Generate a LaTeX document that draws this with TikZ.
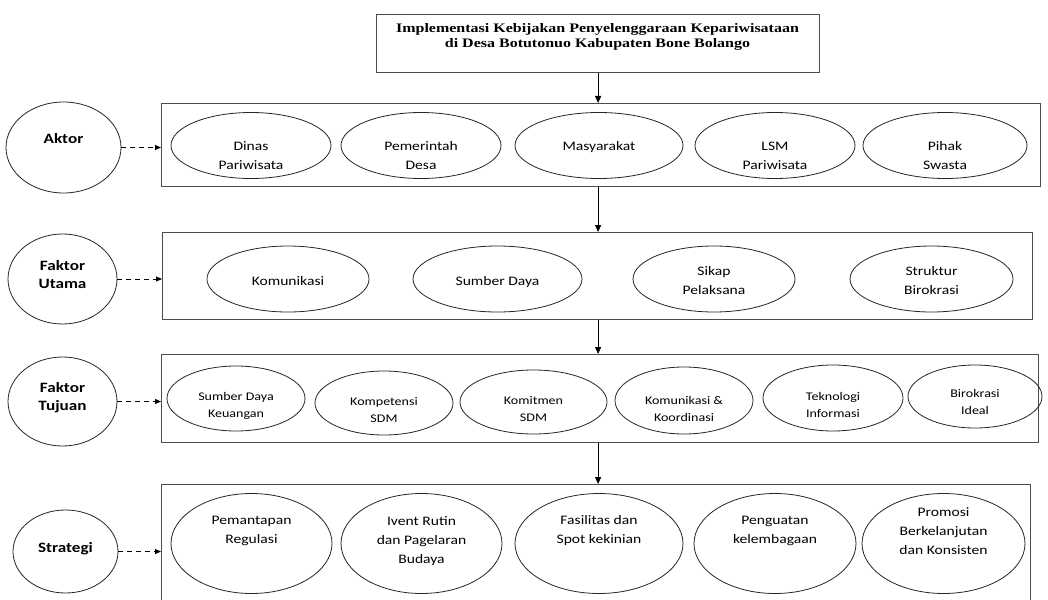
\documentclass[tikz,border=0pt]{standalone}
\usepackage{fontspec}
\setmainfont{Carlito}[FakeStretch=1.2]
\newfontfamily\titlefont{Liberation Serif}[FakeStretch=1.23]
\usetikzlibrary{shapes.geometric,arrows.meta}
\tikzset{
  ov/.style={draw=black!85, line width=0.8pt, ellipse, inner sep=0pt},
  grp/.style={draw=black!70, line width=1.2pt, rectangle, inner sep=0pt, anchor=north west},
  lbl/.style={anchor=base, align=center, inner sep=0pt, font=\fontsize{13}{19}\selectfont},
  slbl/.style={anchor=base, align=center, inner sep=0pt, font=\fontsize{11.7}{17}\selectfont},
  blbl/.style={anchor=base, align=center, inner sep=0pt, font=\bfseries\fontsize{14.3}{18}\selectfont},
  tlbl/.style={anchor=base, align=center, inner sep=0pt, font=\titlefont\bfseries\fontsize{13}{15}\selectfont},
  flow/.style={-{Triangle[length=7pt,width=6pt]}, line width=0.9pt},
  dasharrow/.style={-{Triangle[length=6pt,width=5pt]}, line width=0.9pt, dash pattern=on 5pt off 4pt},
}
\begin{document}
\begin{tikzpicture}[x=1pt,y=-1pt]
\useasboundingbox (0,0) rectangle (1048,599);
\clip (0,0) rectangle (1048,599);
\fill[white] (0,0) rectangle (1048,599);

% title (base anchor = baseline of last line)
\node[grp, minimum width=443pt, minimum height=58pt] (top) at (376,14) {};
\node[tlbl] (ttl) at (597.5,48) {Implementasi Kebijakan Penyelenggaraan Kepariwisataan\\di Desa Botutonuo Kabupaten Bone Bolango};

% group boxes
\node[grp, minimum width=879pt, minimum height=83pt] (r1) at (161,103) {};
\node[grp, minimum width=870pt, minimum height=87pt] (r2) at (162,232) {};
\node[grp, minimum width=877pt, minimum height=88pt] (r3) at (161,354) {};
\node[grp, minimum width=869pt, minimum height=140pt] (r4) at (161,484) {};

% left labels
\node[ov, minimum width=115pt, minimum height=91pt] (aktor) at (63.5,147.5) {};
\node[blbl] (taktor) at (63.5,143) {Aktor};
\node[ov, minimum width=109pt, minimum height=90pt] (fu) at (62.5,279) {};
\node[blbl] (tfu) at (62.5,288) {Faktor\\Utama};
\node[ov, minimum width=109pt, minimum height=89pt] (ft) at (62.5,401.5) {};
\node[blbl] (tft) at (62.5,410) {Faktor\\Tujuan};
\node[ov, minimum width=105pt, minimum height=83pt] (st) at (65.5,551.5) {};
\node[blbl] (tst) at (65.5,552) {Strategi};

% row 1
\node[ov, minimum width=160pt, minimum height=66pt] (a1) at (251,145.5) {};
\node[lbl] (ta1) at (251,169) {Dinas\\Pariwisata};
\node[ov, minimum width=160pt, minimum height=66pt] (a2) at (421,145.5) {};
\node[lbl] (ta2) at (421,169) {Pemerintah\\Desa};
\node[ov, minimum width=168pt, minimum height=66pt] (a3) at (599,145.5) {};
\node[lbl] (ta3) at (599,150) {Masyarakat};
\node[ov, minimum width=160pt, minimum height=66pt] (a4) at (775,145.5) {};
\node[lbl] (ta4) at (775,169) {LSM\\Pariwisata};
\node[ov, minimum width=164pt, minimum height=66pt] (a5) at (945,145.5) {};
\node[lbl] (ta5) at (945,169) {Pihak\\Swasta};

% row 2
\node[ov, minimum width=162pt, minimum height=66pt] (b1) at (288,279) {};
\node[lbl] (tb1) at (288,285) {Komunikasi};
\node[ov, minimum width=169pt, minimum height=66pt] (b2) at (497.5,279) {};
\node[lbl] (tb2) at (497.5,285) {Sumber Daya};
\node[ov, minimum width=162pt, minimum height=66pt] (b3) at (714,279) {};
\node[lbl] (tb3) at (714,294) {Sikap\\Pelaksana};
\node[ov, minimum width=163pt, minimum height=66pt] (b4) at (931.5,279) {};
\node[lbl] (tb4) at (931.5,294) {Struktur\\Birokrasi};

% row 3
\node[ov, minimum width=138pt, minimum height=65pt] (c1) at (236,398.5) {};
\node[slbl] (tc1) at (236,417) {Sumber Daya\\Keuangan};
\node[ov, minimum width=138pt, minimum height=64pt] (c2) at (384,403) {};
\node[slbl] (tc2) at (384,422) {Kompetensi\\SDM};
\node[ov, minimum width=147pt, minimum height=64pt] (c3) at (533.5,402) {};
\node[slbl] (tc3) at (533.5,421) {Komitmen\\SDM};
\node[ov, minimum width=138pt, minimum height=67pt] (c4) at (684,400.5) {};
\node[slbl] (tc4) at (684,421) {Komunikasi \&\\Koordinasi};
\node[ov, minimum width=140pt, minimum height=66pt] (c5) at (833,398) {};
\node[slbl] (tc5) at (833,417) {Teknologi\\Informasi};
\node[ov, minimum width=134pt, minimum height=63pt] (c6) at (975,396.5) {};
\node[slbl] (tc6) at (975,414) {Birokrasi\\Ideal};

% row 4
\node[ov, minimum width=161pt, minimum height=100pt] (d1) at (251.5,543.5) {};
\node[lbl] (td1) at (251.5,543) {Pemantapan\\Regulasi};
\node[ov, minimum width=161pt, minimum height=100pt] (d2) at (421.5,543.5) {};
\node[lbl] (td2) at (421.5,563) {Ivent Rutin\\dan Pagelaran\\Budaya};
\node[ov, minimum width=168pt, minimum height=100pt] (d3) at (599,543.5) {};
\node[lbl] (td3) at (599,543) {Fasilitas dan\\Spot kekinian};
\node[ov, minimum width=162pt, minimum height=100pt] (d4) at (775,543.5) {};
\node[lbl] (td4) at (775,543) {Penguatan\\kelembagaan};
\node[ov, minimum width=163pt, minimum height=100pt] (d5) at (943.5,543.5) {};
\node[lbl] (td5) at (943.5,554) {Promosi\\Berkelanjutan\\dan Konsisten};

% vertical flow arrows
\draw[flow] (top.south) -- (top.south |- r1.north);
\draw[flow] (top.south |- r1.south) -- (top.south |- r2.north);
\draw[flow] (top.south |- r2.south) -- (top.south |- r3.north);
\draw[flow] (top.south |- r3.south) -- (top.south |- r4.north);

% dashed arrows
\draw[dasharrow] (aktor.east) -- (aktor.east -| r1.west);
\draw[dasharrow] (fu.east) -- (fu.east -| r2.west);
\draw[dasharrow] (ft.east) -- (ft.east -| r3.west);
\draw[dasharrow] (st.east) -- (st.east -| r4.west);
\end{tikzpicture}
\end{document}
